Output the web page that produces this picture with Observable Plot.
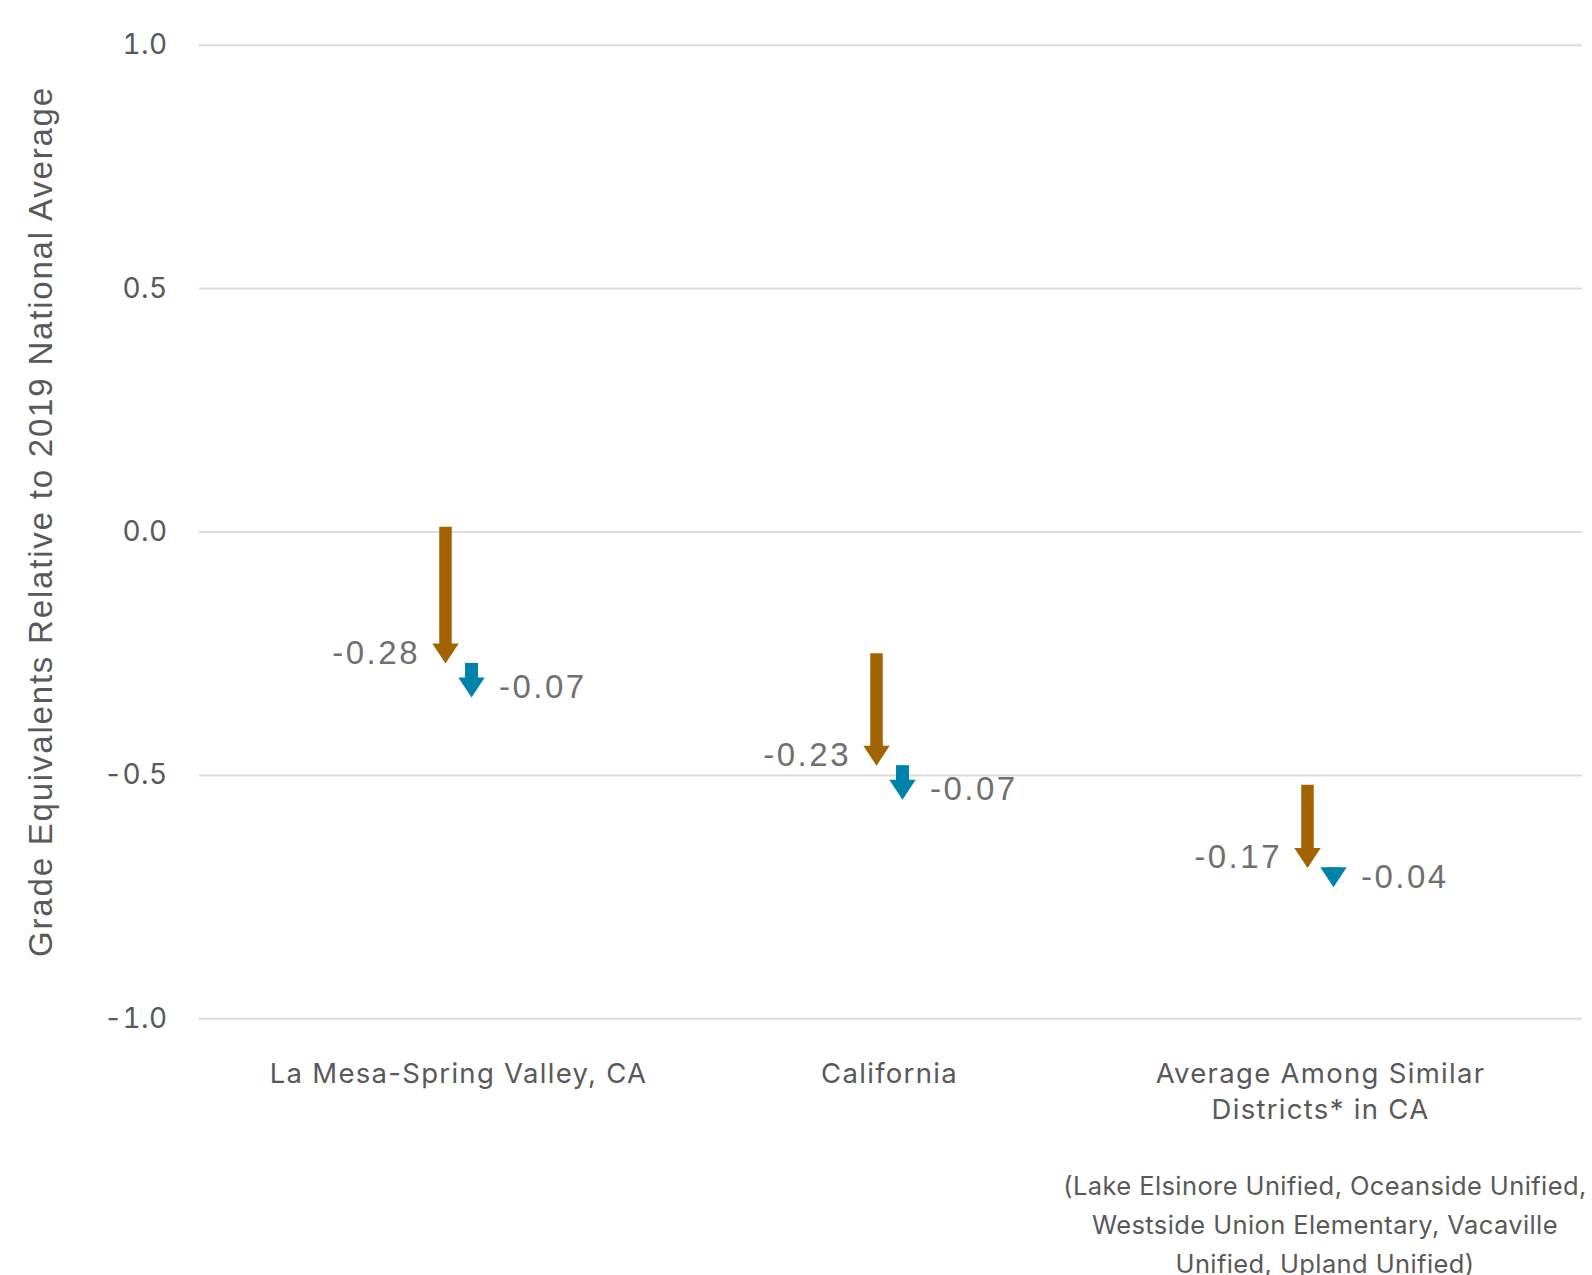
<!DOCTYPE html>
<html>
<head>
<meta charset="utf-8">
<script src="https://cdn.jsdelivr.net/npm/d3@7"></script>
<script src="https://cdn.jsdelivr.net/npm/@observablehq/plot@0.6"></script>
<style>
  html, body { margin: 0; padding: 0; background: #fff; overflow: hidden; }
  #wrap { position: relative; width: 1592px; height: 1275px; }
  #note {
    position: absolute; left: 1025px; width: 600px; top: 1166px;
    text-align: center; font-family: Inter, sans-serif; font-size: 25.5px;
    line-height: 39px; color: #595959; letter-spacing: 0.4px;
  }
  g[aria-label="y-axis tick label"] text { letter-spacing: 0.4px; }
  g[aria-label="x-axis tick label"] text { letter-spacing: 1.3px; }
  g[aria-description="values"] text { letter-spacing: 2.5px; }
  g[aria-description="y-title"] text { letter-spacing: 1.8px; }
</style>
</head>
<body>
<div id="wrap">
  <div id="chart"></div>
  <div id="note">(Lake Elsinore Unified, Oceanside Unified,<br>Westside Union Elementary, Vacaville<br>Unified, Upland Unified)</div>
</div>
<script>
const categories = ["La Mesa-Spring Valley, CA", "California", "Average Among Similar\nDistricts* in CA"];
const startValues = [0.01, -0.25, -0.52];
const firstChange = [-0.28, -0.23, -0.17];
const secondChange = [-0.07, -0.07, -0.04];
const yTicks = [1.0, 0.5, 0.0, -0.5, -1.0];
const yTitle = "Grade Equivalents Relative to 2019 National Average";

const brownColor = "#a36300";
const blueColor = "#0083a8";

const brown = categories.map((c, i) => ({
  cat: c, y1: startValues[i], y2: startValues[i] + firstChange[i], label: firstChange[i].toFixed(2)
}));
const blue = categories.map((c, i) => ({
  cat: c, y1: brown[i].y2, y2: brown[i].y2 + secondChange[i], label: secondChange[i].toFixed(2)
}));

const head = {
  draw(context) {
    context.moveTo(-13.2, -20);
    context.lineTo(13.2, -20);
    context.lineTo(0, 0);
    context.closePath();
  }
};

const valueFont = "'Liberation Sans', Arial, sans-serif";

const chart = Plot.plot({
  width: 1592,
  height: 1150,
  marginTop: 44.7,
  marginBottom: 131.7,
  marginLeft: 199,
  marginRight: 10,
  style: { fontFamily: "Inter, sans-serif", color: "#595959", background: "#fff" },
  x: { type: "point", domain: categories, range: [458, 1320], padding: 0 },
  y: { domain: [-1, 1] },
  marks: [
    Plot.gridY(yTicks, { stroke: "#dcdcdc", strokeOpacity: 1, strokeWidth: 2 }),
    Plot.axisY(yTicks, { tickSize: 0, tickPadding: 32, tickFormat: d => d.toFixed(1), fontSize: 28, label: null }),
    Plot.axisX({ tickSize: 0, tickPadding: 38, fontSize: 27.5, lineHeight: 1.33, label: null }),
    Plot.text([yTitle], { ariaDescription: "y-title", frameAnchor: "left", textAnchor: "middle", text: d => d, rotate: -90, dx: -158, dy: -10.5, fontSize: 33, fontFamily: valueFont, fill: "#595959" }),
    Plot.ruleX(brown, { x: "cat", y1: "y1", y2: "y2", dx: -13, stroke: brownColor, strokeWidth: 12.5, insetBottom: 18 }),
    Plot.dot(brown, { x: "cat", y: "y2", dx: -13, symbol: head, fill: brownColor, stroke: "none" }),
    Plot.ruleX(blue, { x: "cat", y1: "y1", y2: "y2", dx: 13, stroke: blueColor, strokeWidth: 13, insetBottom: 18 }),
    Plot.dot(blue, { x: "cat", y: "y2", dx: 13, symbol: head, fill: blueColor, stroke: "none" }),
    Plot.text(brown, { ariaDescription: "values", x: "cat", y: "y2", text: "label", dx: -38.5, dy: -10, textAnchor: "end", fontSize: 33, fontFamily: valueFont, fill: "#707070" }),
    Plot.text(blue, { ariaDescription: "values", x: "cat", y: "y2", text: "label", dx: 40.5, dy: -10, textAnchor: "start", fontSize: 33, fontFamily: valueFont, fill: "#707070" })
  ]
});
document.getElementById("chart").appendChild(chart);
</script>
</body>
</html>
